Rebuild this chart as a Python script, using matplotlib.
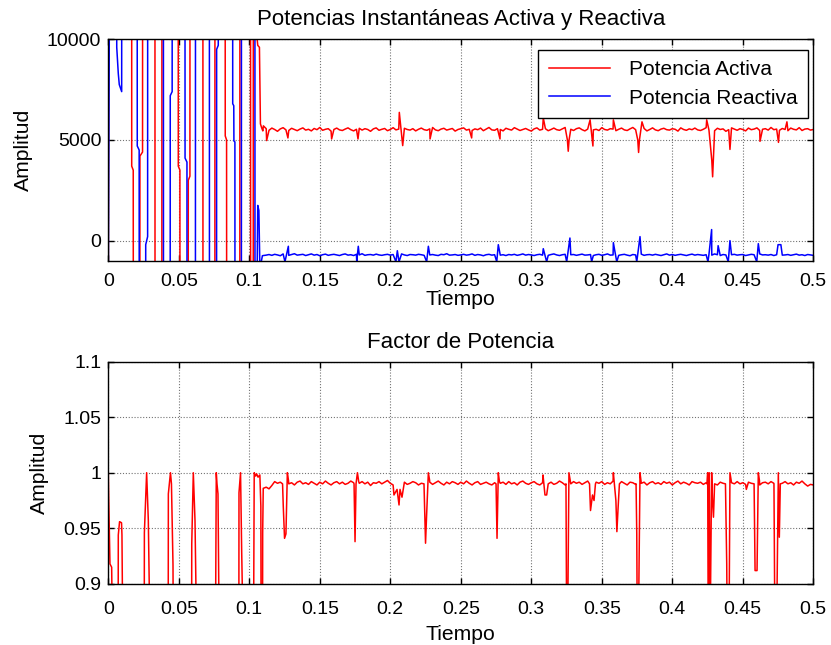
import numpy as np
import matplotlib
matplotlib.use("Agg")
import matplotlib.pyplot as plt

# ---------------------------------------------------------------------------
# Data
# ---------------------------------------------------------------------------
# Start-up transient of the active power P (W); values beyond the axis limits
# are kept so the steep crossings are drawn and clipped by the axes.
p_early_t = [0.0000, 0.0004,
             0.0166, 0.01662, 0.0177, 0.01775,
             0.0224, 0.02245, 0.0243, 0.02435,
             0.0331, 0.03315,
             0.0380, 0.03805,
             0.0496, 0.04965, 0.0508, 0.05085,
             0.0567, 0.05675, 0.0579, 0.05795,
             0.0671, 0.06715,
             0.0756, 0.07565,
             0.0829, 0.08295, 0.0839, 0.08395,
             0.0933, 0.09335,
             0.1009, 0.10095,
             0.1028, 0.10285,
             0.1052, 0.1060, 0.1072, 0.1079, 0.1088, 0.1096]
p_early_v = [-3000, 15000,
             15000, 3700, 3500, -5000,
             -5000, 4200, 4400, 15000,
             15000, -5000,
             -5000, 15000,
             15000, 3700, 3500, -5000,
             -5000, 3000, 3200, 15000,
             15000, -5000,
             -5000, 15000,
             15000, 5200, 5000, -5000,
             -5000, 15000,
             15000, -5000,
             -5000, 15000,
             10300, 9700, 9600, 5800, 5600, 5450]

# Start-up transient of the reactive power Q (VAr)
q_early_t = [0.0000, 0.0010,
             0.0059, 0.0060, 0.0071, 0.0078, 0.0093, 0.0095, 0.00955,
             0.0205, 0.02055, 0.0219, 0.02195,
             0.0265, 0.02655, 0.0279, 0.02795,
             0.0391, 0.03915,
             0.0439, 0.04395, 0.0453, 0.04535,
             0.0544, 0.05445, 0.0558, 0.05585,
             0.0618, 0.06185,
             0.0717, 0.07175,
             0.0768, 0.07685, 0.0780, 0.07805,
             0.0882, 0.08825, 0.0890, 0.0891, 0.0898, 0.08985,
             0.0944, 0.09445,
             0.1040, 0.10405,
             0.1056, 0.1060, 0.1068, 0.1075, 0.1085, 0.1093]
q_early_v = [-2000, 15000,
             15000, 9600, 8300, 7750, 7450, 7400, 15000,
             15000, 4700, 4500, -5000,
             -5000, -200, 200, 15000,
             15000, -5000,
             -5000, 7200, 7400, 15000,
             15000, 4100, 3900, -5000,
             -5000, 15000,
             15000, -5000,
             -5000, 9500, 9700, 15000,
             15000, 6800, 6700, 4950, 4900, -5000,
             -5000, 15000,
             15000, -5000,
             -1500, 1750, 1500, -1300, -1050, -750]

# Start-up transient of the power factor
fp_early_t = [0.0000, 0.0003, 0.0012, 0.0024, 0.0030,
              0.0070, 0.0071, 0.0080, 0.0094, 0.0097, 0.0103,
              0.0255, 0.0256, 0.0272, 0.0284, 0.0296,
              0.0425, 0.0426, 0.0441, 0.0448, 0.0459, 0.0461,
              0.0591, 0.0592, 0.0603, 0.0615, 0.0627,
              0.0760, 0.0766, 0.0771, 0.0778, 0.0787,
              0.0926, 0.0927, 0.0938, 0.0946, 0.0957,
              0.1030, 0.1035, 0.1045, 0.1052, 0.1062, 0.1075, 0.1082,
              0.1084, 0.1094, 0.1095, 0.1099]
fp_early_v = [1.000, 0.977, 0.918, 0.915, 0.850,
              0.850, 0.944, 0.956, 0.955, 0.944, 0.850,
              0.850, 0.946, 1.000, 0.957, 0.850,
              0.850, 0.981, 1.000, 0.990, 0.917, 0.850,
              0.850, 0.936, 1.000, 0.957, 0.850,
              0.850, 1.000, 0.990, 0.981, 0.850,
              0.850, 0.982, 1.000, 0.930, 0.850,
              0.850, 1.000, 0.997, 0.999, 0.996, 0.998, 0.970,
              0.850, 0.850, 0.946, 0.986]

# Steady-state samples, one every 2 ms from 0.110 s to 0.500 s
steady_start = 0.110
steady_step = 0.002

p_steady = [
    5700, 5560, 5480, 5590, 5520, 5430, 5550, 5610, 5500, 5470, 5580, 5520, 5460, 5540,
    5600, 5490, 5530, 5450, 5570, 5510, 5620, 5480, 5530, 5560, 5440, 5520, 5590, 5500,
    5470, 5540, 5600, 5510, 5450, 5530, 5580, 5490, 5560, 5520, 5430, 5550, 5600, 5480,
    5530, 5570, 5460, 5520, 5610, 5500, 5540, 5470, 5580, 5520, 5490, 5560, 5450, 5530,
    5590, 5510, 5480, 5550, 5620, 5500, 5460, 5540, 5580, 5490, 5530, 5570, 5440, 5520,
    5560, 5600, 5490, 5530, 5470, 5550, 5510, 5590, 5460, 5540, 5620, 5500, 5480, 5560,
    5520, 5450, 5580, 5530, 5490, 5610, 5540, 5470, 5520, 5570, 5500, 5440, 5550, 5600,
    5490, 5530, 5560, 5460, 5520, 5590, 5510, 5480, 5550, 5620, 5490, 5530, 5470, 5560,
    5600, 5510, 5450, 5540, 5580, 5500, 5530, 5470, 5610, 5520, 5490, 5560, 5540, 5460,
    5530, 5590, 5500, 5470, 5550, 5620, 5510, 5480, 5540, 5570, 5450, 5520, 5600, 5500,
    5460, 5540, 5580, 5510, 5490, 5560, 5530, 5440, 5600, 5520, 5480, 5550, 5510, 5590,
    5500, 5470, 5530, 5610, 5490, 5540, 5460, 5580, 5520, 5550, 5430, 5510, 5600, 5540,
    5480, 5560, 5520, 5450, 5590, 5510, 5540, 5600, 5470, 5530, 5560, 5490, 5620, 5510,
    5540, 5480, 5570, 5520, 5460, 5590, 5530, 5500, 5610, 5470, 5540, 5560, 5490, 5520,
]

q_steady = [
    -740, -720, -690, -730, -680, -710, -750, -660, -700, -730, -690, -650, -720, -700,
    -680, -740, -700, -660, -720, -690, -750, -700, -670, -730, -700, -680, -710, -740,
    -690, -660, -720, -700, -740, -680, -710, -650, -730, -700, -690, -720, -670, -710,
    -730, -700, -680, -720, -690, -750, -700, -660, -710, -740, -690, -700, -720, -680,
    -700, -730, -670, -710, -690, -720, -740, -680, -700, -650, -720, -710, -690, -730,
    -710, -680, -720, -700, -660, -730, -690, -710, -750, -700, -680, -720, -700, -670,
    -720, -700, -740, -690, -710, -680, -730, -700, -660, -720, -690, -710, -740, -700,
    -680, -720, -700, -730, -690, -660, -710, -740, -700, -680, -720, -700, -690, -730,
    -700, -670, -720, -710, -690, -740, -700, -680, -730, -700, -660, -720, -710, -690,
    -730, -700, -680, -720, -750, -690, -710, -700, -670, -730, -700, -690, -720, -680,
    -710, -740, -700, -660, -720, -690, -730, -700, -680, -710, -740, -700, -670, -720,
    -690, -710, -730, -700, -680, -720, -660, -700, -740, -690, -710, -730, -700, -680,
    -720, -700, -690, -740, -710, -680, -700, -730, -660, -710, -700, -720, -690, -740,
    -700, -680, -720, -710, -690, -730, -700, -670, -720, -700, -740, -690, -710, -730,
]

fp_steady = [
    0.9860, 0.9870, 0.9855, 0.9885, 0.9920, 0.9905, 0.9915, 0.9895, 0.9920, 0.9900, 0.9910, 0.9890, 0.9915, 0.9925,
    0.9900, 0.9910, 0.9895, 0.9920, 0.9905, 0.9890, 0.9915, 0.9900, 0.9925, 0.9905, 0.9890, 0.9910, 0.9920, 0.9900,
    0.9915, 0.9895, 0.9905, 0.9925, 0.9910, 0.9890, 0.9905, 0.9920, 0.9900, 0.9915, 0.9885, 0.9910, 0.9905, 0.9920,
    0.9900, 0.9915, 0.9930, 0.9905, 0.9890, 0.9910, 0.9925, 0.9900, 0.9915, 0.9895, 0.9905, 0.9920, 0.9910, 0.9890,
    0.9905, 0.9920, 0.9900, 0.9915, 0.9895, 0.9910, 0.9925, 0.9905, 0.9890, 0.9915, 0.9900, 0.9920, 0.9910, 0.9895,
    0.9915, 0.9900, 0.9925, 0.9905, 0.9890, 0.9910, 0.9920, 0.9895, 0.9905, 0.9915, 0.9900, 0.9890, 0.9910, 0.9925,
    0.9905, 0.9915, 0.9895, 0.9920, 0.9900, 0.9910, 0.9890, 0.9915, 0.9925, 0.9905, 0.9895, 0.9910, 0.9920, 0.9900,
    0.9890, 0.9910, 0.9920, 0.9900, 0.9915, 0.9895, 0.9905, 0.9925, 0.9910, 0.9890, 0.9915, 0.9900, 0.9920, 0.9905,
    0.9915, 0.9895, 0.9910, 0.9925, 0.9900, 0.9890, 0.9915, 0.9905, 0.9920, 0.9895, 0.9910, 0.9900, 0.9925, 0.9910,
    0.9900, 0.9920, 0.9905, 0.9890, 0.9915, 0.9910, 0.9895, 0.9920, 0.9905, 0.9915, 0.9890, 0.9910, 0.9920, 0.9900,
    0.9910, 0.9895, 0.9920, 0.9905, 0.9915, 0.9890, 0.9910, 0.9925, 0.9900, 0.9915, 0.9905, 0.9890, 0.9920, 0.9910,
    0.9905, 0.9915, 0.9895, 0.9910, 0.9925, 0.9900, 0.9910, 0.9890, 0.9915, 0.9905, 0.9920, 0.9895, 0.9910, 0.9900,
    0.9920, 0.9900, 0.9910, 0.9895, 0.9915, 0.9905, 0.9925, 0.9900, 0.9890, 0.9910, 0.9915, 0.9900, 0.9920, 0.9905,
    0.9895, 0.9915, 0.9905, 0.9920, 0.9900, 0.9910, 0.9890, 0.9915, 0.9905, 0.9925, 0.9900, 0.9880, 0.9895, 0.9890,
]

# Load disturbances superimposed on the steady state
p_dist_t = [0.1123, 0.1274, 0.1584, 0.1771, 0.2064, 0.2088, 0.2282, 0.2577, 0.2778,
            0.3085, 0.3256, 0.3262, 0.3268, 0.3417, 0.3437, 0.3582,
            0.3755, 0.3761, 0.3767, 0.3785, 0.4244, 0.4280, 0.4286, 0.4292,
            0.4409, 0.4622, 0.4753, 0.4813]
p_dist_v = [4970, 5100, 5050, 5050, 6370, 4720, 5050, 5100, 5050,
            6100, 5000, 4440, 5000, 6000, 4700, 6000,
            5000, 4380, 5000, 5900, 6000, 4000, 3170, 4200,
            4530, 4930, 4880, 5900]

q_dist_t = [0.1253, 0.1277, 0.1762, 0.1773, 0.2040, 0.2050, 0.2062, 0.2258, 0.2270,
            0.2755, 0.2766, 0.3085, 0.3109, 0.3251, 0.3274, 0.3428, 0.3582, 0.3606,
            0.3748, 0.3771, 0.4253, 0.4279, 0.4325, 0.4397, 0.4409, 0.4599, 0.4610,
            0.4750, 0.4770]
q_dist_v = [-1050, -280, -1050, -280, -1050, -500, -1050, -1050, -280,
            -1050, -200, -400, -1050, -1050, 130, -1050, -100, -1050,
            -1050, 200, -1050, 550, -250, -1050, 0, -1050, -150,
            -200, -200]

fp_dist_t = [0.1236, 0.1241, 0.1250, 0.1260, 0.1270, 0.1278,
             0.1743, 0.1750, 0.1757, 0.1767, 0.1776,
             0.2026, 0.2048, 0.2062, 0.2069, 0.2083,
             0.2239, 0.2250, 0.2257, 0.2270, 0.2279,
             0.2750, 0.2757, 0.2766, 0.2774,
             0.3083, 0.3097, 0.3109,
             0.3246, 0.3251, 0.3257, 0.3267, 0.3275,
             0.3413, 0.3420, 0.3434, 0.3445, 0.3455,
             0.3582, 0.3600, 0.3607, 0.3615, 0.3625,
             0.3743, 0.3748, 0.3752, 0.3759, 0.3771, 0.3779,
             0.4246, 0.4251, 0.4255, 0.4262, 0.4268, 0.4279, 0.4285, 0.4292, 0.4300,
             0.4377, 0.4386, 0.4390, 0.4402, 0.4409, 0.4417,
             0.4525,
             0.4580, 0.4587, 0.4601, 0.4610, 0.4618,
             0.4721, 0.4728, 0.4739, 0.4752, 0.4759, 0.4766]
fp_dist_v = [0.990, 0.970, 0.941, 0.945, 1.000, 0.993,
             0.990, 0.938, 0.990, 1.000, 0.992,
             0.980, 0.985, 0.971, 0.985, 0.978,
             0.990, 0.9366, 0.960, 1.000, 0.993,
             0.990, 0.941, 1.000, 0.992,
             0.998, 0.980, 0.980,
             0.990, 0.850, 0.850, 1.000, 0.994,
             0.990, 0.966, 0.980, 0.975, 0.990,
             1.000, 0.975, 0.947, 0.967, 0.990,
             0.990, 0.945, 0.850, 0.850, 1.000, 0.992,
             0.990, 1.000, 0.850, 1.000, 0.850, 1.000, 0.975, 0.960, 0.990,
             0.990, 0.918, 0.850, 0.850, 1.000, 0.993,
             0.985,
             0.990, 0.912, 0.912, 1.000, 0.993,
             0.990, 0.850, 0.850, 1.000, 0.942, 0.990]

time_ticks = [0, 0.05, 0.1, 0.15, 0.2, 0.25, 0.3, 0.35, 0.4, 0.45, 0.5]
time_labels = ["0", "0.05", "0.1", "0.15", "0.2", "0.25", "0.3", "0.35", "0.4", "0.45", "0.5"]
power_ticks = [0, 5000, 10000]
power_labels = ["0", "5000", "10000"]
fp_ticks = [0.9, 0.95, 1.0, 1.05, 1.1]
fp_labels = ["0.9", "0.95", "1", "1.05", "1.1"]


def build_series(early_t, early_v, steady_v, dist_t, dist_v, gap=0.0025):
    """Join transient, steady-state and disturbance samples into one trace."""
    base_t = steady_start + steady_step * np.arange(len(steady_v))
    base_v = np.asarray(steady_v, float)
    dt_ = np.asarray(dist_t, float)
    dv_ = np.asarray(dist_v, float)
    order = np.argsort(dt_)
    dt_, dv_ = dt_[order], dv_[order]
    keep = np.ones(len(base_t), bool)
    splits = np.where(np.diff(dt_) > gap)[0] + 1
    for seg in np.split(dt_, splits):
        keep &= ~((base_t >= seg[0] - 1e-9) & (base_t <= seg[-1] + 1e-9))
    t = np.concatenate([early_t, base_t[keep], dt_])
    v = np.concatenate([early_v, base_v[keep], dv_])
    idx = np.argsort(t, kind="stable")
    return t[idx], v[idx]


t_p, v_p = build_series(p_early_t, p_early_v, p_steady, p_dist_t, p_dist_v)
t_q, v_q = build_series(q_early_t, q_early_v, q_steady, q_dist_t, q_dist_v)
t_fp, v_fp = build_series(fp_early_t, fp_early_v, fp_steady, fp_dist_t, fp_dist_v)

# ---------------------------------------------------------------------------
# Figure
# ---------------------------------------------------------------------------
plt.rcParams["font.family"] = ["Liberation Sans", "DejaVu Sans"]
FS_TICK = 14
FS_TITLE = 16
FS_LABEL = 15.2
FS_LEGEND = 15

fig = plt.figure(figsize=(8.31, 6.45), dpi=100)
ax1 = fig.add_axes([0.1303, 0.5957, 0.8484, 0.3434])
ax2 = fig.add_axes([0.1303, 0.0947, 0.8484, 0.3448])


def style_axes(ax, xpad):
    ax.set_xlim(0, 0.5)
    ax.set_xticks(time_ticks)
    ax.set_xticklabels(time_labels)
    ax.grid(True, color="0.45", linestyle=(0, (1, 1.6)), linewidth=0.8)
    ax.set_axisbelow(True)
    ax.tick_params(direction="in", length=4, width=1.0, top=True, right=True,
                   labelsize=FS_TICK)
    ax.tick_params(axis="x", pad=xpad)
    ax.tick_params(axis="y", pad=5)
    for s in ax.spines.values():
        s.set_linewidth(1.0)
        s.set_color("black")


ax1.plot(t_p, v_p, color="#ff0000", lw=1.1, label="Potencia Activa")
ax1.plot(t_q, v_q, color="#0000ff", lw=1.1, label="Potencia Reactiva")
style_axes(ax1, xpad=9)
ax1.set_ylim(-1000, 10000)
ax1.set_yticks(power_ticks)
ax1.set_yticklabels(power_labels)
ax1.set_title("Potencias Instantáneas Activa y Reactiva", fontsize=FS_TITLE, pad=10)
ax1.set_xlabel("Tiempo", fontsize=FS_LABEL, labelpad=0)
ax1.set_ylabel("Amplitud", fontsize=FS_LABEL, labelpad=10)
leg = ax1.legend(loc="upper right", bbox_to_anchor=(0.9925, 0.9517),
                 borderaxespad=0, fontsize=FS_LEGEND, fancybox=False, framealpha=1,
                 edgecolor="black", handlelength=2.95, handletextpad=0.9,
                 labelspacing=0.45, borderpad=0.5)
leg.get_frame().set_linewidth(1.0)

ax2.plot(t_fp, v_fp, color="#ff0000", lw=1.1)
style_axes(ax2, xpad=12)
ax2.set_ylim(0.9, 1.1)
ax2.set_yticks(fp_ticks)
ax2.set_yticklabels(fp_labels)
ax2.set_title("Factor de Potencia", fontsize=FS_TITLE, pad=10)
ax2.set_xlabel("Tiempo", fontsize=FS_LABEL, labelpad=5)
ax2.set_ylabel("Amplitud", fontsize=FS_LABEL, labelpad=10)

fig.savefig("out.png", dpi=100, facecolor="white")
